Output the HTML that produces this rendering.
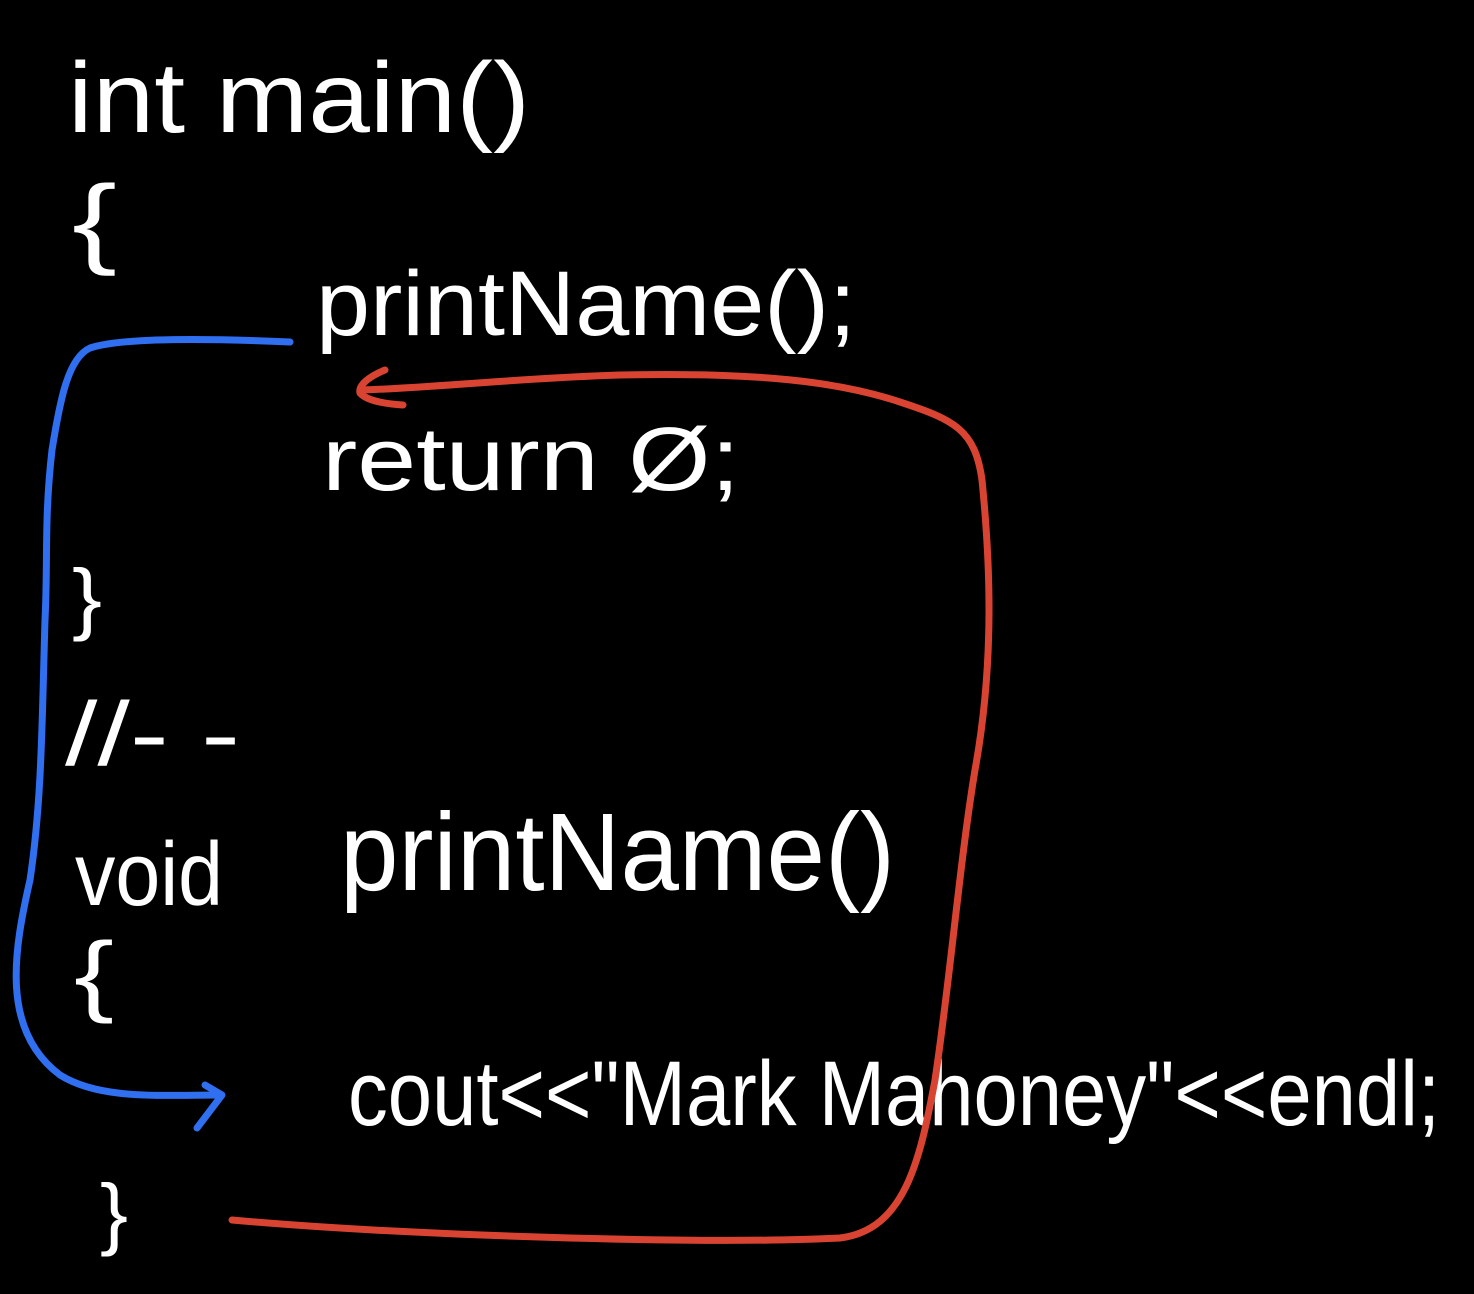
<!DOCTYPE html>
<html><head><meta charset="utf-8"><style>
html,body{margin:0;padding:0;background:#000;}
svg{display:block}
text{font-family:"Liberation Sans",sans-serif;fill:#fff;}
</style></head><body>
<svg width="1474" height="1294" viewBox="0 0 1474 1294" xmlns="http://www.w3.org/2000/svg">
<rect width="1474" height="1294" fill="#000"/>
<text x="68" y="132" font-size="100" textLength="462" lengthAdjust="spacingAndGlyphs">int main()</text>
<text x="72" y="255" font-size="100" textLength="45" lengthAdjust="spacingAndGlyphs">{</text>
<text x="316" y="335" font-size="92" textLength="540" lengthAdjust="spacingAndGlyphs">printName();</text>
<text x="322" y="490" font-size="90" textLength="418" lengthAdjust="spacingAndGlyphs">return Ø;</text>
<text x="72" y="625" font-size="80" textLength="30" lengthAdjust="spacingAndGlyphs">}</text>
<text x="65" y="765" font-size="90" textLength="175" lengthAdjust="spacingAndGlyphs">//- -</text>
<text x="75" y="905" font-size="90" textLength="148" lengthAdjust="spacingAndGlyphs">void</text>
<text x="340" y="890" font-size="110" textLength="555" lengthAdjust="spacingAndGlyphs">printName()</text>
<text x="74" y="1005" font-size="90" textLength="40" lengthAdjust="spacingAndGlyphs">{</text>
<text x="348" y="1125" font-size="92" textLength="1092" lengthAdjust="spacingAndGlyphs">cout&lt;&lt;"Mark Mahoney"&lt;&lt;endl;</text>
<text x="100" y="1240" font-size="80" textLength="28" lengthAdjust="spacingAndGlyphs">}</text>
<g fill="none" stroke="#2f6ff0" stroke-width="7" stroke-linecap="round" stroke-linejoin="round">
<path d="M290,342 C200,338 120,338 90,348 C68,358 60,400 52,450 C44,520 48,560 45,620 C42,720 42,800 30,880 C14,950 0,1030 60,1075 C100,1100 160,1095 220,1095"/>
<path d="M205,1085 L222,1095 L197,1128"/>
</g>
<g fill="none" stroke="#d94432" stroke-width="7" stroke-linecap="round" stroke-linejoin="round">
<path d="M232,1220 C400,1235 700,1245 840,1238 C905,1230 920,1160 935,1080 C950,980 960,860 975,770 C995,660 990,560 982,480 C975,430 955,420 900,402 C840,382 760,372 620,375 C520,378 430,388 362,390"/>
<path d="M385,370 C370,376 358,385 360,393 C368,402 390,404 403,405"/>
</g>
</svg>
</body></html>
